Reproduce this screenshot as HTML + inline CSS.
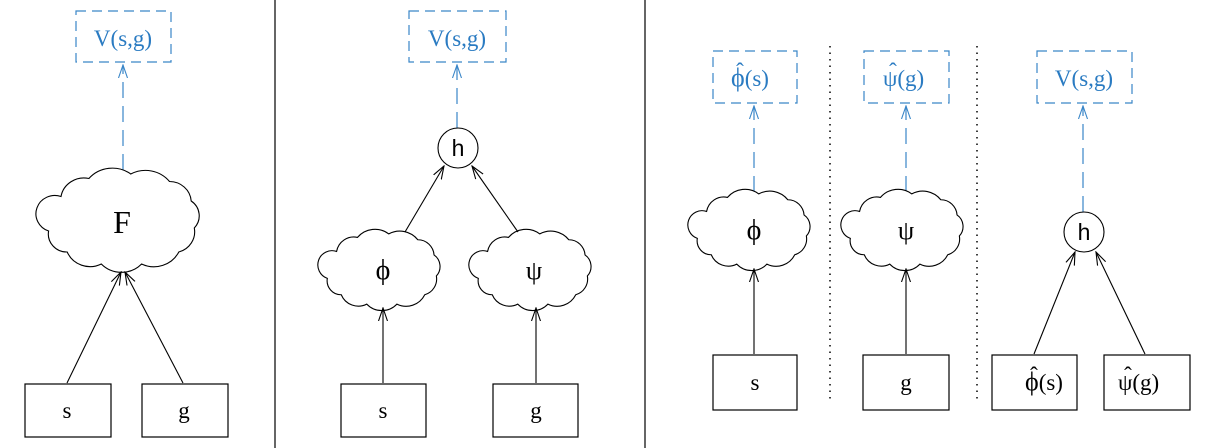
<!DOCTYPE html>
<html><head><meta charset="utf-8"><style>
html,body{margin:0;padding:0;background:#fff;width:1205px;height:448px;overflow:hidden}
svg{display:block}
text{font-family:"Liberation Serif","DejaVu Serif",serif}
.b{fill:#2a7bc2;font-size:23px}
.k{fill:#000;font-size:23px}
.g{font-size:28px}
</style></head><body>
<svg width="1205" height="448" viewBox="0 0 1205 448" xmlns="http://www.w3.org/2000/svg">
<defs>
<marker id="ak" viewBox="0 0 14 14" refX="13" refY="7" markerWidth="14" markerHeight="14" markerUnits="userSpaceOnUse" orient="auto"><path d="M0,2.5 L13,7 L0,11.5" fill="none" stroke="#000" stroke-width="1.1"/></marker>
<marker id="ab" viewBox="0 0 14 14" refX="13" refY="7" markerWidth="14" markerHeight="14" markerUnits="userSpaceOnUse" orient="auto"><path d="M0,2.5 L13,7 L0,11.5" fill="none" stroke="#3a86c8" stroke-width="1.1"/></marker>
<path id="cl" d="M -40,-15 A 15 15 0 0 1 -22,-27 A 20 20 0 0 1 5,-30 A 20 20 0 0 1 30,-25 A 14 14 0 0 1 44,-12 A 12 12 0 0 1 46,6 A 14 14 0 0 1 36,22 A 18 18 0 0 1 12,30 A 18 18 0 0 1 -14,30 A 16 16 0 0 1 -36,22 A 12 12 0 0 1 -48,8 A 12 12 0 0 1 -40,-15 Z" fill="#fff" stroke="#000" stroke-width="1.1" vector-effect="non-scaling-stroke"/>
</defs>
<g stroke="#000" stroke-width="1.2">
<line x1="275" y1="0" x2="275" y2="448"/>
<line x1="645" y1="0" x2="645" y2="448"/>
</g>
<g stroke="#000" stroke-width="1.5" stroke-dasharray="1.5,5">
<line x1="830" y1="46" x2="830" y2="403"/>
<line x1="977" y1="46" x2="977" y2="403"/>
</g>
<g fill="none" stroke="#3a86c8" stroke-width="1.2" stroke-dasharray="10,6">
<rect x="76" y="11" width="95" height="51"/>
<rect x="409" y="11" width="97" height="51"/>
<rect x="713" y="51" width="84" height="52"/>
<rect x="864" y="51" width="85" height="52"/>
<rect x="1037" y="51" width="95" height="52"/>
</g>
<g class="b" text-anchor="middle">
<text x="123" y="46">V(s,g)</text>
<text x="457" y="46">V(s,g)</text>
<text x="1084" y="86">V(s,g)</text>
</g>
<g class="b">
<text x="731" y="86"><tspan font-size="26">ϕ</tspan>(s)</text>
<text x="740" y="79" text-anchor="middle">ˆ</text>
<text x="883" y="86">ψ(g)</text>
<text x="893" y="79" text-anchor="middle">ˆ</text>
</g>
<g stroke="#3a86c8" stroke-width="1.2" stroke-dasharray="16,8" fill="none">
<line x1="123" y1="170" x2="123" y2="65" marker-end="url(#ab)"/>
<line x1="457" y1="128" x2="457" y2="65" marker-end="url(#ab)"/>
<line x1="754" y1="192" x2="754" y2="106" marker-end="url(#ab)"/>
<line x1="906" y1="192" x2="906" y2="106" marker-end="url(#ab)"/>
<line x1="1083" y1="212" x2="1083" y2="106" marker-end="url(#ab)"/>
</g>
<use href="#cl" transform="translate(123,219) scale(1.55,1.5)"/>
<use href="#cl" transform="translate(383,269) scale(1.16,1.17)"/>
<use href="#cl" transform="translate(534,269) scale(1.16,1.17)"/>
<use href="#cl" transform="translate(753,229) scale(1.16,1.17)"/>
<use href="#cl" transform="translate(906,229) scale(1.16,1.17)"/>
<g class="k" text-anchor="middle">
<text x="122" y="233" font-size="32">F</text>
<text class="g" x="383" y="279">ϕ</text>
<text x="534" y="279" font-size="26">ψ</text>
<text class="g" x="754" y="239">ϕ</text>
<text x="906" y="239" font-size="26">ψ</text>
</g>
<g fill="#fff" stroke="#000" stroke-width="1.1">
<circle cx="458" cy="148" r="20"/>
<circle cx="1084" cy="232" r="20"/>
</g>
<g font-size="23" text-anchor="middle">
<text x="458" y="156" style="font-family:'Liberation Sans',sans-serif">h</text>
<text x="1084" y="240" style="font-family:'Liberation Sans',sans-serif">h</text>
</g>
<g fill="#fff" stroke="#000" stroke-width="1.2">
<rect x="25" y="384" width="86" height="53"/>
<rect x="142" y="384" width="86" height="53"/>
<rect x="341" y="384" width="85" height="53"/>
<rect x="493" y="384" width="85" height="53"/>
<rect x="713" y="355" width="84" height="55"/>
<rect x="863" y="355" width="86" height="55"/>
<rect x="992" y="355" width="85" height="55"/>
<rect x="1104" y="355" width="86" height="55"/>
</g>
<g class="k" text-anchor="middle">
<text x="67" y="418">s</text>
<text x="184" y="418">g</text>
<text x="383" y="418">s</text>
<text x="536" y="418">g</text>
<text x="755" y="390">s</text>
<text x="906" y="390">g</text>
</g>
<g class="k">
<text x="1025" y="390"><tspan font-size="26">ϕ</tspan>(s)</text>
<text x="1034" y="383" text-anchor="middle">ˆ</text>
<text x="1118" y="390">ψ(g)</text>
<text x="1128" y="383" text-anchor="middle">ˆ</text>
</g>
<g stroke="#000" stroke-width="1.1" fill="none">
<line x1="67" y1="383" x2="121" y2="272" marker-end="url(#ak)"/>
<line x1="183" y1="383" x2="125" y2="272" marker-end="url(#ak)"/>
<line x1="383" y1="383" x2="383" y2="308" marker-end="url(#ak)"/>
<line x1="536" y1="383" x2="536" y2="308" marker-end="url(#ak)"/>
<line x1="405" y1="232" x2="444" y2="166" marker-end="url(#ak)"/>
<line x1="518" y1="232" x2="472" y2="166" marker-end="url(#ak)"/>
<line x1="754" y1="354" x2="754" y2="269" marker-end="url(#ak)"/>
<line x1="906" y1="354" x2="906" y2="269" marker-end="url(#ak)"/>
<line x1="1034" y1="354" x2="1075" y2="252" marker-end="url(#ak)"/>
<line x1="1145" y1="354" x2="1096" y2="252" marker-end="url(#ak)"/>
</g>
</svg>
</body></html>
